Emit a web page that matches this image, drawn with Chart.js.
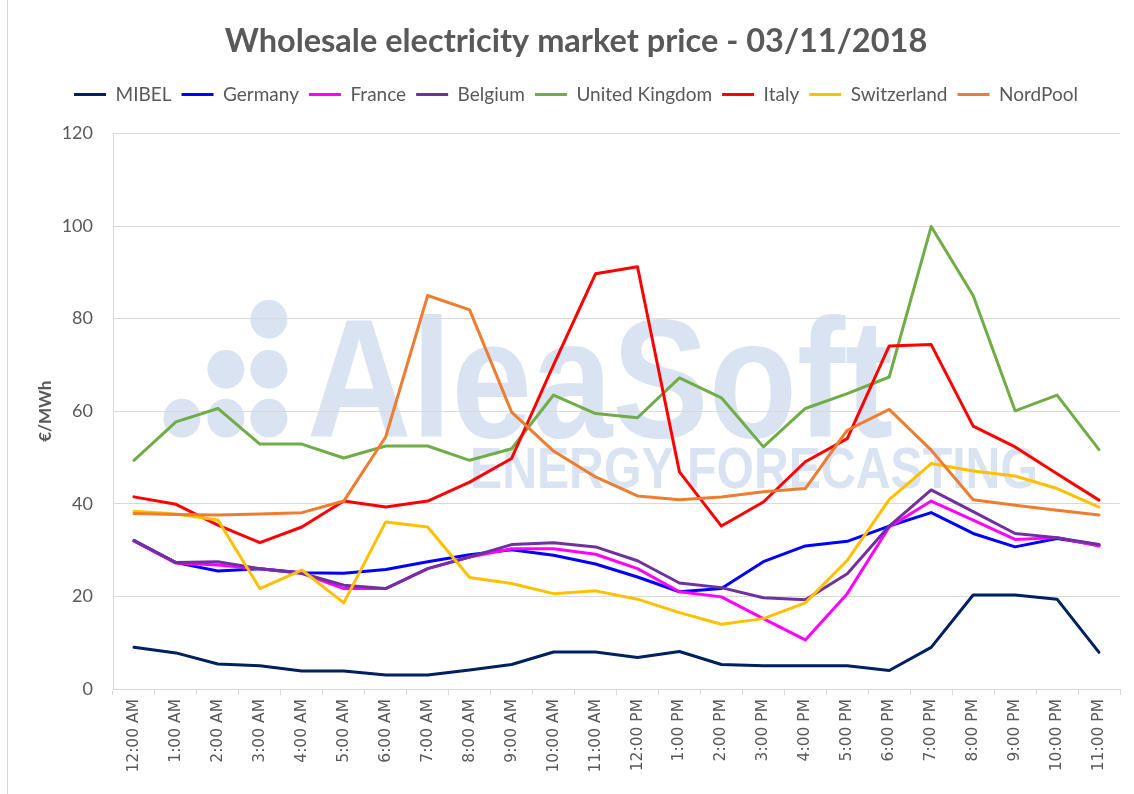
<!DOCTYPE html>
<html>
<head>
<meta charset="utf-8">
<script src="https://cdn.jsdelivr.net/npm/chart.js@4.4.0/dist/chart.umd.min.js"></script>
<style>
  html, body { margin: 0; padding: 0; background: #ffffff; }
  #wrap { position: relative; width: 1134px; height: 794px; }
  #edge { position: absolute; left: 7px; top: 0; width: 1px; height: 794px; background: #d9d9d9; }
  canvas { position: absolute; left: 0; top: 0; }
</style>
</head>
<body>
<div id="wrap"><div id="edge"></div><canvas id="c" width="1134" height="794"></canvas></div>
<script>
const hours = ["12:00 AM","1:00 AM","2:00 AM","3:00 AM","4:00 AM","5:00 AM","6:00 AM","7:00 AM","8:00 AM","9:00 AM","10:00 AM","11:00 AM",
               "12:00 PM","1:00 PM","2:00 PM","3:00 PM","4:00 PM","5:00 PM","6:00 PM","7:00 PM","8:00 PM","9:00 PM","10:00 PM","11:00 PM"];

const mibel       = [9.0, 7.8, 5.4, 5.0, 3.9, 3.9, 3.0, 3.0, 4.1, 5.3, 8.0, 8.0, 6.8, 8.1, 5.3, 5.0, 5.0, 5.0, 4.0, 9.0, 20.3, 20.3, 19.4, 7.9];
const germany     = [32.0, 27.3, 25.5, 26.0, 25.1, 25.0, 25.8, 27.5, 29.0, 30.1, 28.9, 27.0, 24.2, 21.0, 21.7, 27.5, 30.9, 31.9, 35.2, 38.1, 33.6, 30.7, 32.5, 31.1];
const france      = [32.0, 27.2, 26.8, 26.0, 25.0, 21.7, 21.7, 26.0, 28.5, 30.3, 30.3, 29.1, 26.0, 21.0, 19.9, 15.2, 10.6, 20.6, 35.0, 40.6, 36.5, 32.3, 32.7, 30.9];
const belgium     = [32.1, 27.3, 27.5, 26.0, 25.0, 22.4, 21.7, 26.0, 28.5, 31.2, 31.6, 30.7, 27.7, 22.9, 21.9, 19.7, 19.3, 24.9, 35.2, 43.0, 38.3, 33.6, 32.7, 31.2];
const uk          = [49.4, 57.7, 60.6, 52.9, 52.9, 49.9, 52.5, 52.5, 49.4, 51.9, 63.5, 59.5, 58.6, 67.2, 62.9, 52.3, 60.6, 63.8, 67.4, 99.9, 85.0, 60.1, 63.5, 51.7];
const italy       = [41.5, 39.9, 35.4, 31.6, 35.0, 40.6, 39.3, 40.6, 44.7, 49.8, 70.0, 89.7, 91.2, 46.9, 35.2, 40.4, 49.1, 54.1, 74.1, 74.4, 56.8, 52.3, 46.5, 40.8];
const switzerland = [38.4, 37.8, 36.5, 21.7, 25.7, 18.6, 36.1, 35.0, 24.1, 22.8, 20.6, 21.2, 19.4, 16.5, 14.0, 15.2, 18.6, 27.8, 40.9, 48.7, 47.1, 46.0, 43.3, 39.3];
const nordpool    = [37.9, 37.7, 37.6, 37.8, 38.1, 40.6, 54.5, 85.0, 81.9, 59.8, 51.4, 45.8, 41.7, 40.9, 41.5, 42.6, 43.3, 55.9, 60.4, 51.6, 40.9, 39.7, 38.6, 37.6];

const seriesNames  = ["MIBEL","Germany","France","Belgium","United Kingdom","Italy","Switzerland","NordPool"];
const seriesValues = [mibel, germany, france, belgium, uk, italy, switzerland, nordpool];
const seriesColors = ["#002060","#0000FF","#FF00FF","#7030A0","#70AD47","#FF0000","#FFC000","#ED7D31"];

const yMin = 0, yMax = 120, yStep = 20;
const titleText = "Wholesale electricity market price - 03/11/2018";
const yTitle = "€/MWh";

const TXT = "#595959";
const FONT = "Lato, 'Open Sans', sans-serif";

const watermark = {
  id: "watermark",
  beforeDraw(chart) {
    const ctx = chart.ctx;
    const a = chart.chartArea;
    const W = a.right - a.left, H = a.bottom - a.top;
    const px = f => a.left + f * W;
    const py = f => a.top + f * H;
    ctx.save();
    ctx.fillStyle = "rgb(218,227,242)";
    const r = 18.5;
    const dots = [[0.1548,0.3345],[0.1121,0.4245],[0.1548,0.4245],[0.0685,0.5125],[0.1121,0.5125],[0.1548,0.5125]];
    dots.forEach(d => { ctx.beginPath(); ctx.ellipse(px(d[0]), py(d[1]), r, r * 1.05, 0, 0, Math.PI * 2); ctx.fill(); });
    ctx.font = "bold 168px 'Liberation Sans', Arial, sans-serif";
    ctx.textBaseline = "alphabetic";
    let w = ctx.measureText("AleaSoft").width;
    let target = 0.582 * W;
    ctx.save();
    ctx.translate(px(0.1927), py(0.547));
    ctx.scale(target / w, 1);
    ctx.fillText("AleaSoft", 0, 0);
    ctx.restore();
    ctx.font = "bold 57px 'Liberation Sans', Arial, sans-serif";
    w = ctx.measureText("ENERGY FORECASTING").width;
    target = 0.564 * W;
    ctx.save();
    ctx.translate(px(0.3545), py(0.6385));
    ctx.scale(target / w, 1);
    ctx.fillText("ENERGY FORECASTING", 0, 0);
    ctx.restore();
    ctx.restore();
  }
};

const datasets = seriesNames.map((n, i) => ({
  label: n,
  data: seriesValues[i],
  borderColor: seriesColors[i],
  backgroundColor: seriesColors[i],
  borderWidth: 3,
  pointRadius: 0,
  pointHoverRadius: 0,
  tension: 0,
  fill: false,
  order: -i,
  borderJoinStyle: "round",
  borderCapStyle: "round"
}));

new Chart(document.getElementById("c"), {
  type: "line",
  data: { labels: hours, datasets },
  plugins: [watermark],
  options: {
    responsive: false,
    animation: false,
    devicePixelRatio: 1,
    layout: { padding: { top: 22, left: 32, right: 14, bottom: 8 } },
    plugins: {
      tooltip: { enabled: false },
      title: {
        display: true,
        text: titleText,
        color: TXT,
        font: { family: FONT, size: 32.5, weight: "bold" },
        padding: { top: 0, bottom: 14 }
      },
      subtitle: {
        display: true,
        text: " ",
        position: "top",
        weight: 500,
        font: { size: 1, lineHeight: 1 },
        padding: { top: 0, bottom: 18.5 }
      },
      legend: {
        display: true,
        position: "top",
        labels: {
          color: TXT,
          font: { family: FONT, size: 19 },
          usePointStyle: true,
          pointStyle: "line",
          pointStyleWidth: 32,
          padding: 10,
          sort: (a, b) => a.datasetIndex - b.datasetIndex
        }
      }
    },
    scales: {
      x: {
        offset: true,
        grid: { display: true, drawOnChartArea: false, drawTicks: true, tickLength: 6, color: "#d9d9d9", offset: true },
        border: { display: true, color: "#d9d9d9" },
        ticks: {
          color: TXT,
          font: { family: "'DejaVu Sans', sans-serif", size: 15.5 },
          minRotation: 90, maxRotation: 90, autoSkip: false, padding: 4
        },
        afterFit(s) { s.height = 97; }
      },
      y: {
        min: yMin, max: yMax,
        ticks: { stepSize: yStep, color: TXT, font: { family: FONT, size: 18 }, padding: 20 },
        grid: { color: "#d9d9d9", drawTicks: false, lineWidth: 1 },
        border: { display: true, color: "#d9d9d9" },
        title: { display: true, text: yTitle, color: TXT, font: { family: FONT, size: 17, weight: "bold" }, padding: { top: 3, bottom: 0 } },
        afterFit(s) { s.width = 81; }
      }
    }
  }
});
</script>
</body>
</html>
